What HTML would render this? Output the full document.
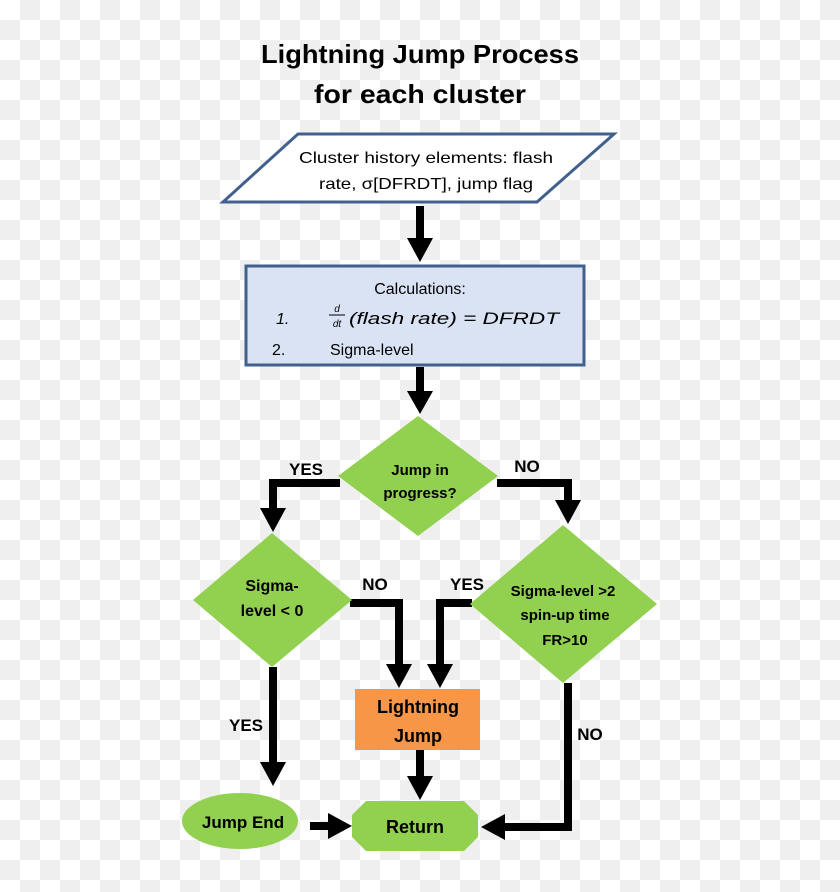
<!DOCTYPE html>
<html><head><meta charset="utf-8"><style>
html,body{margin:0;padding:0}
body{width:840px;height:892px;overflow:hidden;
background-color:#fff;
background-image:linear-gradient(45deg,#efefef 25%,transparent 25%,transparent 75%,#efefef 75%),linear-gradient(45deg,#efefef 25%,transparent 25%,transparent 75%,#efefef 75%);
background-size:40px 40px;background-position:0 0,20px 20px;}
svg{position:absolute;left:0;top:0}
text{font-family:"Liberation Sans",sans-serif}
</style></head><body>
<svg width="840" height="892" viewBox="0 0 840 892">
<text x="420" y="63" font-size="26" font-weight="bold" text-anchor="middle" textLength="318" lengthAdjust="spacingAndGlyphs">Lightning Jump Process</text>
<text x="420" y="103" font-size="26" font-weight="bold" text-anchor="middle" textLength="212" lengthAdjust="spacingAndGlyphs">for each cluster</text>
<polygon points="298,134 614,134 537,202 223,202" fill="#fff" stroke="#41608d" stroke-width="3"/>
<text x="426" y="163" font-size="16" text-anchor="middle" textLength="254" lengthAdjust="spacingAndGlyphs">Cluster history elements: flash</text>
<text x="426" y="189" font-size="16" text-anchor="middle" textLength="214" lengthAdjust="spacingAndGlyphs">rate, σ[DFRDT], jump flag</text>
<g stroke="#000" stroke-width="8" fill="none" stroke-linejoin="miter">
<line x1="420" y1="206" x2="420" y2="240"/>
<line x1="420" y1="367" x2="420" y2="394"/>
<polyline points="340,483 273,483 273,510"/>
<polyline points="497,483 568,483 568,502"/>
<polyline points="350,603 399,603 399,666"/>
<polyline points="472,603 440,603 440,666"/>
<line x1="420" y1="750" x2="420" y2="778"/>
<line x1="273" y1="667" x2="273" y2="764"/>
<line x1="310" y1="826" x2="330" y2="826"/>
<polyline points="568,683 568,827 503,827"/>
</g>
<g fill="#000">
<polygon points="407,238 433,238 420,262"/>
<polygon points="407,391 433,391 420,414"/>
<polygon points="260,508 286,508 273,532"/>
<polygon points="555,500 581,500 568,524"/>
<polygon points="386,664 412,664 399,688"/>
<polygon points="427,664 453,664 440,688"/>
<polygon points="407,776 433,776 420,800"/>
<polygon points="260,762 286,762 273,786"/>
<polygon points="328,813 328,839 352,826"/>
<polygon points="505,814 505,840 481,827"/>
</g>
<rect x="246" y="266" width="338" height="99" fill="#dae3f3" stroke="#41608d" stroke-width="3"/>
<text x="420" y="294" font-size="16" text-anchor="middle">Calculations:</text>
<text x="276" y="324" font-size="16" font-style="italic" font-family="Liberation Serif">1.</text>
<text x="337" y="312" font-size="10" font-style="italic" font-family="Liberation Serif" text-anchor="middle">d</text>
<line x1="329" y1="315" x2="345" y2="315" stroke="#000" stroke-width="1"/>
<text x="337" y="327" font-size="10" font-style="italic" font-family="Liberation Serif" text-anchor="middle">dt</text>
<text x="349" y="324" font-size="17" font-style="italic" font-family="Liberation Serif" textLength="210" lengthAdjust="spacingAndGlyphs">(flash rate) = DFRDT</text>
<text x="272" y="355" font-size="16">2.</text>
<text x="330" y="355" font-size="16">Sigma-level</text>
<polygon points="418,416 498,476 418,536 338,476" fill="#92d050"/>
<text x="420" y="475" font-size="15" font-weight="bold" text-anchor="middle">Jump in</text>
<text x="420" y="498" font-size="15" font-weight="bold" text-anchor="middle">progress?</text>
<text x="306" y="475" font-size="17" font-weight="bold" text-anchor="middle">YES</text>
<text x="527" y="472" font-size="17" font-weight="bold" text-anchor="middle">NO</text>
<polygon points="272,533 352,600 272,667 193,600" fill="#92d050"/>
<text x="272" y="591" font-size="16" font-weight="bold" text-anchor="middle">Sigma-</text>
<text x="272" y="616" font-size="16" font-weight="bold" text-anchor="middle">level &lt; 0</text>
<polygon points="563,525 657,604 563,683 470,604" fill="#92d050"/>
<text x="563" y="596" font-size="15" font-weight="bold" text-anchor="middle">Sigma-level &gt;2</text>
<text x="565" y="620" font-size="15" font-weight="bold" text-anchor="middle">spin-up time</text>
<text x="565" y="645" font-size="15" font-weight="bold" text-anchor="middle">FR&gt;10</text>
<text x="375" y="590" font-size="17" font-weight="bold" text-anchor="middle">NO</text>
<text x="467" y="590" font-size="17" font-weight="bold" text-anchor="middle">YES</text>
<rect x="355" y="689" width="125" height="61" fill="#f79646"/>
<text x="418" y="713" font-size="18" font-weight="bold" text-anchor="middle">Lightning</text>
<text x="418" y="742" font-size="18" font-weight="bold" text-anchor="middle">Jump</text>
<text x="246" y="731" font-size="17" font-weight="bold" text-anchor="middle">YES</text>
<text x="590" y="740" font-size="17" font-weight="bold" text-anchor="middle">NO</text>
<ellipse cx="240" cy="821" rx="58" ry="28" fill="#92d050"/>
<text x="243" y="828" font-size="17" font-weight="bold" text-anchor="middle">Jump End</text>
<polygon points="366,801 464,801 478,815 478,837 464,851 366,851 352,837 352,815" fill="#92d050"/>
<text x="415" y="833" font-size="18" font-weight="bold" text-anchor="middle">Return</text>
</svg>
</body></html>
